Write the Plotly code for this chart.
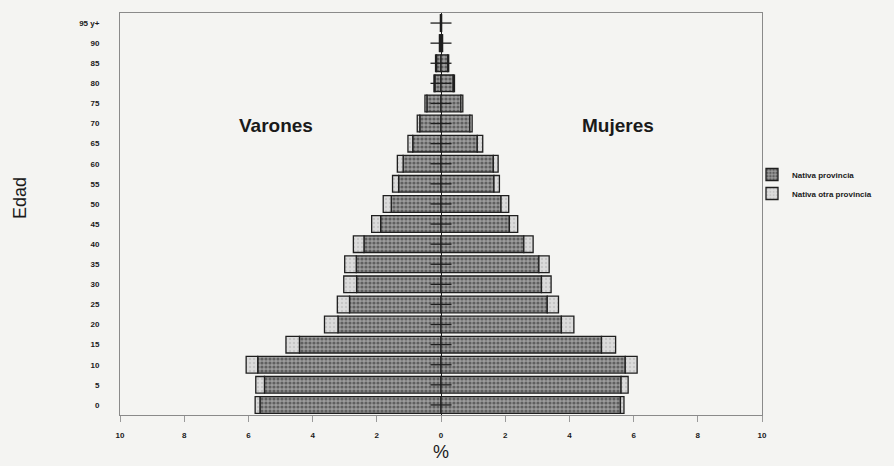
import plotly.graph_objects as go

edades = ["0", "5", "10", "15", "20", "25", "30", "35", "40", "45", "50",
          "55", "60", "65", "70", "75", "80", "85", "90", "95 y+"]

# Varones (%), shown to the left
varones_nativa_prov = [5.64, 5.50, 5.71, 4.41, 3.21, 2.85, 2.63, 2.64, 2.40, 1.88,
                       1.55, 1.32, 1.18, 0.88, 0.66, 0.44, 0.19, 0.14, 0.04, 0.01]
varones_otra_prov = [0.15, 0.27, 0.36, 0.42, 0.42, 0.38, 0.40, 0.36, 0.33, 0.28,
                     0.25, 0.19, 0.18, 0.15, 0.08, 0.06, 0.03, 0.03, 0.01, 0.01]

# Mujeres (%), shown to the right
mujeres_nativa_prov = [5.59, 5.61, 5.74, 5.00, 3.75, 3.31, 3.13, 3.05, 2.58, 2.13,
                       1.87, 1.65, 1.63, 1.13, 0.90, 0.62, 0.38, 0.21, 0.04, 0.01]
mujeres_otra_prov = [0.11, 0.22, 0.37, 0.44, 0.39, 0.35, 0.30, 0.32, 0.29, 0.26,
                     0.24, 0.17, 0.15, 0.17, 0.07, 0.06, 0.04, 0.03, 0.01, 0.01]

centro = [0] * len(edades)

x_ticks = [-10, -8, -6, -4, -2, 0, 2, 4, 6, 8, 10]
x_ticktext = ["<b>%d</b>" % abs(v) for v in x_ticks]

FONT = "Arial, Liberation Sans, sans-serif"
BG = "#f4f4f2"
DARK = dict(color="#959595",
            line=dict(color="#1e1e1e", width=1.3),
            pattern=dict(shape=".", fgcolor="#222222", bgcolor="#9c9c9c",
                         size=4, solidity=0.5, fillmode="overlay"))
LIGHT = dict(color="#dadada",
             line=dict(color="#1e1e1e", width=1.3),
             pattern=dict(shape=".", fgcolor="#b0b0b0", bgcolor="#dcdcdc",
                          size=4, solidity=0.3, fillmode="overlay"))

fig = go.Figure()
fig.add_trace(go.Bar(y=edades, x=[-v for v in varones_nativa_prov], orientation="h",
                     marker=DARK, name="<b>Nativa provincia</b>",
                     legendgroup="np", showlegend=True))
fig.add_trace(go.Bar(y=edades, x=[-v for v in varones_otra_prov], orientation="h",
                     marker=LIGHT, name="<b>Nativa otra provincia</b>",
                     legendgroup="op", showlegend=True))
fig.add_trace(go.Bar(y=edades, x=mujeres_nativa_prov, orientation="h",
                     marker=DARK, name="<b>Nativa provincia</b>",
                     legendgroup="np", showlegend=False))
fig.add_trace(go.Bar(y=edades, x=mujeres_otra_prov, orientation="h",
                     marker=LIGHT, name="<b>Nativa otra provincia</b>",
                     legendgroup="op", showlegend=False))
fig.add_trace(go.Scatter(y=edades, x=centro, mode="markers",
                         marker=dict(symbol="line-ew", size=15,
                                     line=dict(color="#1e1e1e", width=1.3)),
                         showlegend=False, hoverinfo="skip"))

L, R, T, B = 120, 132, 13, 51
W, H = 894, 466
plot_w = W - L - R
plot_h = H - T - B

fig.update_layout(
    width=W, height=H,
    margin=dict(l=L, r=R, t=T, b=B),
    paper_bgcolor=BG, plot_bgcolor=BG,
    barmode="relative", bargap=0.17,
    font=dict(family=FONT, color="#1a1a1a"),
    showlegend=True,
    legend=dict(x=(752 - L) / plot_w, y=1 - (160 - T) / plot_h,
                xanchor="left", yanchor="top",
                font=dict(size=8, family=FONT, color="#1a1a1a"),
                bgcolor="rgba(0,0,0,0)", itemwidth=30, tracegroupgap=0,
                traceorder="normal"),
    xaxis=dict(range=[-10, 10], tickvals=x_ticks, ticktext=x_ticktext,
               tickfont=dict(size=8, family=FONT, color="#1a1a1a"),
               showgrid=False, zeroline=True, zerolinecolor="#1e1e1e", zerolinewidth=1.2,
               showline=True, linecolor="#8a8a8a", linewidth=1, mirror=True,
               ticks="outside", ticklen=6, tickcolor="#9a9a9a", ticklabelstandoff=6,
               fixedrange=True),
    yaxis=dict(type="category", categoryorder="array", categoryarray=edades,
               range=[-0.5, 19.5],
               tickvals=edades, ticktext=["<b>%s</b>" % e for e in edades],
               tickfont=dict(size=8, family=FONT, color="#1a1a1a"),
               showgrid=False, showline=True, linecolor="#8a8a8a", linewidth=1, mirror=True,
               ticks="", ticklabelstandoff=18, fixedrange=True),
    annotations=[
        dict(text="<b>Varones</b>", x=-5.15, y=13.9, xref="x", yref="y",
             showarrow=False, font=dict(size=19, family=FONT, color="#1a1a1a")),
        dict(text="<b>Mujeres</b>", x=5.5, y=13.9, xref="x", yref="y",
             showarrow=False, font=dict(size=19, family=FONT, color="#1a1a1a")),
        dict(text="Edad", x=(20 - L) / plot_w, y=1 - (198 - T) / plot_h,
             xref="paper", yref="paper", xanchor="center", yanchor="middle",
             showarrow=False, textangle=-90,
             font=dict(size=18, family=FONT, color="#1a1a1a")),
        dict(text="%", x=(441 - L) / plot_w, y=1 - (452 - T) / plot_h,
             xref="paper", yref="paper", xanchor="center", yanchor="middle",
             showarrow=False, font=dict(size=18, family=FONT, color="#1a1a1a")),
    ],
)

fig.write_html("out.html", config={"displayModeBar": False},
               post_script="document.body.style.margin='0';document.body.style.background='%s';" % BG)
